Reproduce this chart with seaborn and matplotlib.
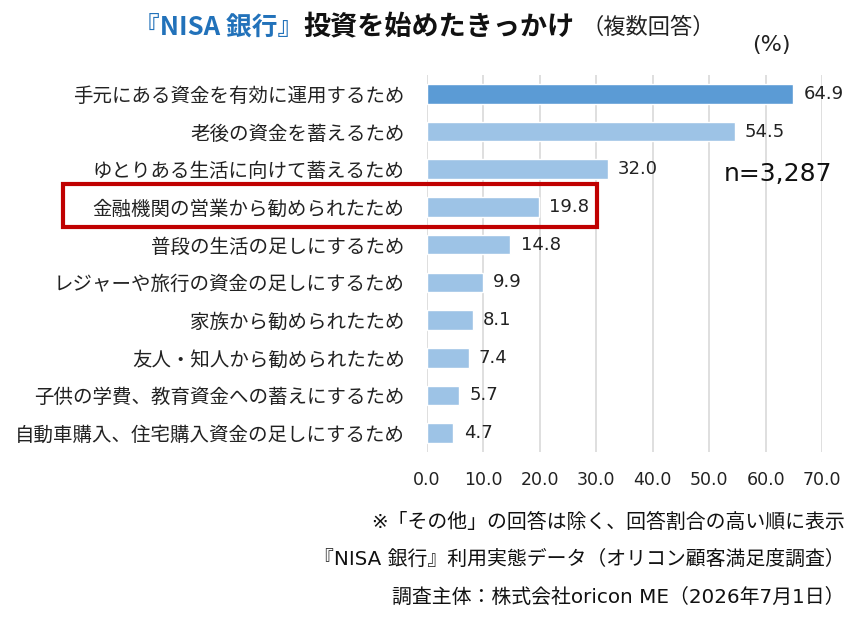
import numpy as np
import pandas as pd
import matplotlib
matplotlib.use('Agg')
import matplotlib.pyplot as plt
import seaborn as sns
from matplotlib.patches import Rectangle

# データ
labels = ['手元にある資金を有効に運用するため', '老後の資金を蓄えるため', 'ゆとりある生活に向けて蓄えるため',
          '金融機関の営業から勧められたため', '普段の生活の足しにするため', 'レジャーや旅行の資金の足しにするため',
          '家族から勧められたため', '友人・知人から勧められたため', '子供の学費、教育資金への蓄えにするため',
          '自動車購入、住宅購入資金の足しにするため']
values = [64.9, 54.5, 32.0, 19.8, 14.8, 9.9, 8.1, 7.4, 5.7, 4.7]
xticks = [0, 10, 20, 30, 40, 50, 60, 70]

df = pd.DataFrame({'label': labels, 'value': values})
colors = ['#5B9BD5'] + ['#9DC3E6'] * (len(labels) - 1)

sns.set_style('white')
plt.rcParams['font.family'] = ['DejaVu Sans', 'Noto Sans CJK JP']
jp = ['Noto Sans CJK JP', 'DejaVu Sans']

fig = plt.figure(figsize=(8.65, 6.2), dpi=100)
ax = fig.add_axes([0.4936, 0.271, 0.4567, 0.608])

sns.barplot(data=df, x='value', y='label', hue='label', palette=colors,
            legend=False, width=0.52, ax=ax, saturation=1, zorder=3)

ax.set_xlim(0, 70)
ax.set_xticks(xticks)
ax.set_xticklabels([f'{t:.1f}' for t in xticks], fontsize=12.5, color='#222222')
ax.set_yticks(range(len(labels)))
ax.set_yticklabels(labels, fontsize=14, color='#222222', family=jp)
ax.tick_params(axis='y', length=0, pad=16)
ax.tick_params(axis='x', length=0, pad=14)
ax.set_xlabel('')
ax.set_ylabel('')
ax.grid(axis='x', color='#D9D9D9', linewidth=1.2, zorder=0)
for s in ax.spines.values():
    s.set_visible(False)

for i, v in enumerate(values):
    ax.text(v + 1.8, i, f'{v:.1f}', va='center', ha='left', fontsize=13, color='#222222')

# タイトル
fig.canvas.draw()
r = fig.canvas.get_renderer()
ty = 1 - 27 / 620
t1 = fig.text(134 / 865, ty, '『NISA 銀行』', fontsize=18.5, fontweight='bold',
              color='#2272BA', va='center', family=jp)
bb = t1.get_window_extent(r)
t2 = fig.text(bb.x1 / fig.bbox.width, ty, '投資を始めたきっかけ', fontsize=19.5,
              fontweight='bold', color='#111111', va='center', family=jp)
bb = t2.get_window_extent(r)
fig.text(bb.x1 / fig.bbox.width + 0.008, ty, '（複数回答）', fontsize=16,
         color='#222222', va='center', family=jp)

fig.text(771 / 865, 1 - 45 / 620, '(%)', fontsize=16, color='#222222', ha='center', va='center')
fig.text(778 / 865, 1 - 174 / 620, 'n=3,287', fontsize=18, color='#111111', ha='center', va='center')

# 赤枠
fig.patches.append(Rectangle((63 / 865, 1 - 227 / 620), (597 - 63) / 865, (227 - 184) / 620,
                             transform=fig.transFigure, fill=False, edgecolor='#C00000',
                             linewidth=3, zorder=10))

# 注記
notes = ['※「その他」の回答は除く、回答割合の高い順に表示',
         '『NISA 銀行』利用実態データ（オリコン顧客満足度調査）',
         '調査主体：株式会社oricon ME（2026年7月1日）']
for y, n in zip([522, 559, 597], notes):
    fig.text(845 / 865, 1 - y / 620, n, fontsize=14.3, color='#111111', ha='right', va='center')

fig.savefig('out.png', dpi=100)
